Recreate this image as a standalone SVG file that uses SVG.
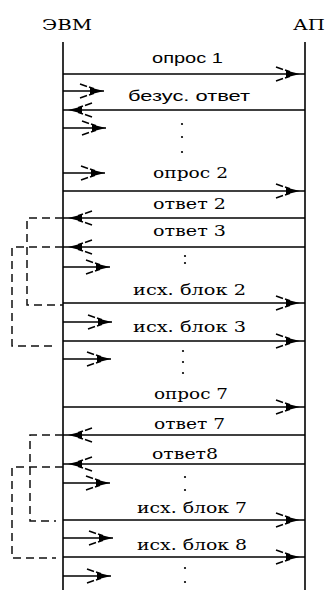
<svg xmlns="http://www.w3.org/2000/svg" width="328" height="590" viewBox="0 0 328 590">
  <style>
    .life { stroke: #000; stroke-width: 1.6; fill: none; }
    .msg { stroke: #000; stroke-width: 1.4; fill: none; }
    .full { marker-end: url(#ah); }
    .short { marker-end: url(#ahs); }
    .loop { stroke: #111; stroke-width: 1.5; fill: none; stroke-dasharray: 8 5; }
    .serif { font-family: "DejaVu Serif", "Liberation Serif", serif; font-size: 15px; fill: #000; }
    .sans { font-family: "Liberation Sans", "DejaVu Sans", sans-serif; font-size: 15px; fill: #000; }
    .dot { fill: #000; }
  </style>
  <defs>
    <!-- open double-barb arrowhead with a solid wedge at the tip -->
    <marker id="ah" markerUnits="userSpaceOnUse" orient="auto" refX="29" refY="10" markerWidth="40" markerHeight="20" overflow="visible">
      <path d="M10,6.5 L24,10 L10,13.5 Z" fill="#000" stroke="none"/>
      <path d="M0,3 L7,5.5 M9,6 L14,7.8 M0,17 L7,14.5 M9,14 L14,12.2" stroke="#000" stroke-width="1.5" fill="none"/>
    </marker>
    <marker id="ahs" markerUnits="userSpaceOnUse" orient="auto" refX="24" refY="10" markerWidth="40" markerHeight="20" overflow="visible">
      <path d="M10,6.5 L24,10 L10,13.5 Z" fill="#000" stroke="none"/>
      <path d="M0,3 L7,5.5 M9,6 L14,7.8 M0,17 L7,14.5 M9,14 L14,12.2" stroke="#000" stroke-width="1.5" fill="none"/>
    </marker>
  </defs>

  <!-- lifelines -->
  <g id="evm">
    <text class="serif" x="42" y="30" textLength="50" lengthAdjust="spacingAndGlyphs">ЭВМ</text>
    <line class="life" x1="63" y1="42" x2="63" y2="590"/>
  </g>
  <g id="ap">
    <text class="serif" x="293" y="30" textLength="32" lengthAdjust="spacingAndGlyphs">АП</text>
    <line class="life" x1="305" y1="42" x2="305" y2="590"/>
  </g>

  <!-- messages between the lifelines -->
  <g id="connectors">
    <line class="msg full" x1="63" y1="74" x2="305" y2="74"/>
    <line class="msg full" x1="305" y1="110" x2="63" y2="110"/>
    <line class="msg full" x1="63" y1="191" x2="305" y2="191"/>
    <line class="msg full" x1="305" y1="218" x2="63" y2="218"/>
    <line class="msg full" x1="305" y1="247" x2="63" y2="247"/>
    <line class="msg full" x1="63" y1="303" x2="305" y2="303"/>
    <line class="msg full" x1="63" y1="341" x2="305" y2="341"/>
    <line class="msg full" x1="63" y1="407" x2="305" y2="407"/>
    <line class="msg full" x1="305" y1="435" x2="63" y2="435"/>
    <line class="msg full" x1="305" y1="464" x2="63" y2="464"/>
    <line class="msg full" x1="63" y1="520" x2="305" y2="520"/>
    <line class="msg full" x1="63" y1="557" x2="305" y2="557"/>

    <!-- short local arrows on the ЭВМ side -->
    <line class="msg short" x1="63" y1="91" x2="104" y2="91"/>
    <line class="msg short" x1="63" y1="128" x2="106" y2="128"/>
    <line class="msg short" x1="63" y1="173" x2="105" y2="173"/>
    <line class="msg short" x1="63" y1="267" x2="110" y2="267"/>
    <line class="msg short" x1="63" y1="322" x2="112" y2="322"/>
    <line class="msg short" x1="63" y1="359" x2="111" y2="359"/>
    <line class="msg short" x1="63" y1="483" x2="110" y2="483"/>
    <line class="msg short" x1="63" y1="538" x2="113" y2="538"/>
    <line class="msg short" x1="63" y1="576" x2="111" y2="576"/>

    <!-- dashed reply-to-block links -->
    <polyline class="loop" points="63,218 27,218 27,305 63,305"/>
    <polyline class="loop" points="63,247 12,247 12,346 56,346"/>
    <polyline class="loop" points="63,435 30,435 30,521 56,521"/>
    <polyline class="loop" points="63,467 12,467 12,558 56,558"/>
  </g>

  <!-- message labels -->
  <g id="labels">
    <text class="sans" x="152" y="63" textLength="71" lengthAdjust="spacingAndGlyphs">опрос 1</text>
    <text class="sans" x="128" y="101" textLength="122" lengthAdjust="spacingAndGlyphs">безус. ответ</text>
    <text class="serif" x="153" y="178" textLength="75" lengthAdjust="spacingAndGlyphs">опрос 2</text>
    <text class="serif" x="153" y="209" textLength="73" lengthAdjust="spacingAndGlyphs">ответ 2</text>
    <text class="serif" x="153" y="236" textLength="73" lengthAdjust="spacingAndGlyphs">ответ 3</text>
    <text class="serif" x="133" y="295" textLength="113" lengthAdjust="spacingAndGlyphs">исх. блок 2</text>
    <text class="serif" x="133" y="332" textLength="113" lengthAdjust="spacingAndGlyphs">исх. блок 3</text>
    <text class="serif" x="154" y="399" textLength="74" lengthAdjust="spacingAndGlyphs">опрос 7</text>
    <text class="serif" x="154" y="429" textLength="71" lengthAdjust="spacingAndGlyphs">ответ 7</text>
    <text class="serif" x="152" y="459" textLength="66" lengthAdjust="spacingAndGlyphs">ответ8</text>
    <text class="serif" x="137" y="513" textLength="110" lengthAdjust="spacingAndGlyphs">исх. блок 7</text>
    <text class="serif" x="137" y="550" textLength="110" lengthAdjust="spacingAndGlyphs">исх. блок 8</text>
  </g>

  <!-- ellipsis dots -->
  <g id="ellipses">
    <circle class="dot" cx="182" cy="124" r="1.1"/>
    <circle class="dot" cx="182" cy="137" r="1.1"/>
    <circle class="dot" cx="182" cy="152" r="1.1"/>
    <circle class="dot" cx="185" cy="256" r="1.1"/>
    <circle class="dot" cx="185" cy="263" r="1.1"/>
    <circle class="dot" cx="183" cy="351" r="1.1"/>
    <circle class="dot" cx="183" cy="362" r="1.1"/>
    <circle class="dot" cx="183" cy="373" r="1.1"/>
    <circle class="dot" cx="185" cy="477" r="1.1"/>
    <circle class="dot" cx="185" cy="490" r="1.1"/>
    <circle class="dot" cx="185" cy="568" r="1.1"/>
    <circle class="dot" cx="185" cy="582" r="1.1"/>
  </g>
</svg>
